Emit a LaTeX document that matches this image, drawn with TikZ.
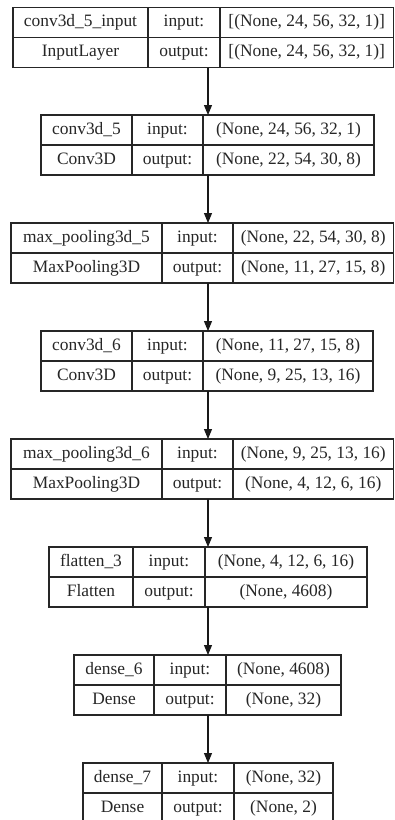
\documentclass[tikz,border=0pt]{standalone}
\usepackage{fontspec}
\setmainfont{Liberation Serif}
\usetikzlibrary{arrows.meta}
\tikzset{
  cell/.style={draw=black!85, line width=1.1pt, inner sep=0pt, outer sep=0pt,
    text height=12pt, text depth=3.5pt,
    font=\fontsize{17.4}{20}\selectfont, text=black!85},
  arr/.style={draw=black!90, line width=1.1pt, -{Triangle[width=8pt,length=10pt]}},
}
\newcommand\cell[6]{%
  \pgfmathsetmacro\cw{#4-#2}\pgfmathsetmacro\ch{#5-#3}%
  \pgfmathsetmacro\cx{(#2+#4)/2}\pgfmathsetmacro\cy{(#3+#5)/2}%
  \node[cell, minimum width=\cw pt, minimum height=\ch pt] (#1) at (\cx,\cy) {#6};}
\newcommand\geom[6]{\def\lid{#1}\def\ltop{#2}\def\la{#3}\def\lb{#4}\def\lc{#5}\def\ld{#6}%
  \pgfmathsetmacro\lmid{#2+30}\pgfmathsetmacro\lbot{#2+60}}
\newcommand\texts[4]{%
  \cell{\lid-n}{\la}{\ltop}{\lb}{\lmid}{#1}%
  \cell{\lid-t}{\la}{\lmid}{\lb}{\lbot}{#2}%
  \cell{\lid-il}{\lb}{\ltop}{\lc}{\lmid}{input:}%
  \cell{\lid-ol}{\lb}{\lmid}{\lc}{\lbot}{output:}%
  \cell{\lid-iv}{\lc}{\ltop}{\ld}{\lmid}{#3}%
  \cell{\lid-ov}{\lc}{\lmid}{\ld}{\lbot}{#4}%
  \coordinate (\lid-top) at (208,\ltop);
  \coordinate (\lid-bot) at (208,\lbot);}
\begin{document}
\begin{tikzpicture}[x=1pt,y=-1pt]
\useasboundingbox (0,0) rectangle (395,820);
\clip (0,0) rectangle (395,820);
\fill[white] (0,0) rectangle (395,820);
\geom{L1}{7.5}{13}{148}{220}{393.5}
\texts{conv3d\_5\_input}{InputLayer}{[(None, 24, 56, 32, 1)]}{[(None, 24, 56, 32, 1)]}
\geom{L2}{115}{41}{132}{203}{374}
\texts{conv3d\_5}{Conv3D}{(None, 24, 56, 32, 1)}{(None, 22, 54, 30, 8)}
\geom{L3}{223}{11}{162}{233}{393.5}
\texts{max\_pooling3d\_5}{MaxPooling3D}{(None, 22, 54, 30, 8)}{(None, 11, 27, 15, 8)}
\geom{L4}{331}{41}{132}{203}{373}
\texts{conv3d\_6}{Conv3D}{(None, 11, 27, 15, 8)}{(None, 9, 25, 13, 16)}
\geom{L5}{439}{11}{162}{233}{393.5}
\texts{max\_pooling3d\_6}{MaxPooling3D}{(None, 9, 25, 13, 16)}{(None, 4, 12, 6, 16)}
\geom{L6}{547}{49}{133}{205}{367}
\texts{flatten\_3}{Flatten}{(None, 4, 12, 6, 16)}{(None, 4608)}
\geom{L7}{655}{74}{154}{226}{341}
\texts{dense\_6}{Dense}{(None, 4608)}{(None, 32)}
\geom{L8}{763}{83}{162}{234}{333}
\texts{dense\_7}{Dense}{(None, 32)}{(None, 2)}
\draw[arr] (L1-bot) -- (L2-top);
\draw[arr] (L2-bot) -- (L3-top);
\draw[arr] (L3-bot) -- (L4-top);
\draw[arr] (L4-bot) -- (L5-top);
\draw[arr] (L5-bot) -- (L6-top);
\draw[arr] (L6-bot) -- (L7-top);
\draw[arr] (L7-bot) -- (L8-top);
\end{tikzpicture}
\end{document}
